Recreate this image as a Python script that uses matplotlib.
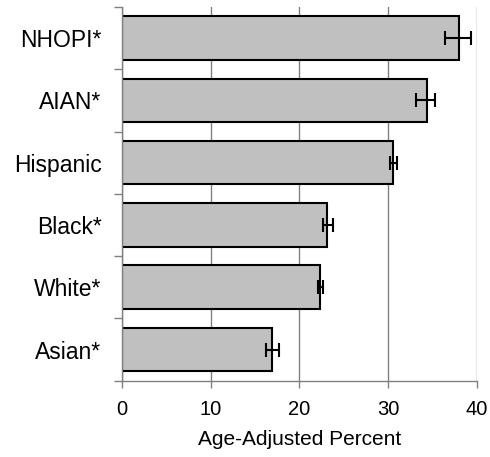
import matplotlib
matplotlib.use("Agg")
import matplotlib.pyplot as plt
import numpy as np

plt.rcParams['font.family'] = ['Liberation Sans', 'DejaVu Sans']

# Age-adjusted percent by race/ethnicity, bottom to top
groups = ["Asian*", "White*", "Black*", "Hispanic", "AIAN*", "NHOPI*"]
percent = [16.9, 22.35, 23.05, 30.5, 34.35, 38.0]
ci_low = [16.25, 22.1, 22.6, 30.25, 33.15, 36.4]
ci_high = [17.7, 22.6, 23.8, 31.0, 35.3, 39.4]
x_ticks = [0, 10, 20, 30, 40]
x_label = "Age-Adjusted Percent"

fig = plt.figure(figsize=(4.9, 4.57), dpi=100)
ax = fig.add_axes([0.2496, 0.167, 0.9728 - 0.2496, 0.9847 - 0.167])

y = np.arange(len(groups))
err = [np.array(percent) - np.array(ci_low), np.array(ci_high) - np.array(percent)]

ax.barh(y, percent, height=0.70, color="#c0c0c0", edgecolor="black",
        linewidth=1.5, zorder=2)
ax.errorbar(percent, y, xerr=err, fmt="none", ecolor="black",
            elinewidth=1.5, capsize=5, capthick=1.5, zorder=3)

ax.set_xlim(0, 40)
ax.set_ylim(-0.5, len(groups) - 0.5)
ax.set_xticks(x_ticks)
ax.set_xticklabels([str(t) for t in x_ticks])
ax.grid(axis="x", color="#808080", linewidth=1.0, zorder=0)
ax.set_axisbelow(True)

# category boundaries carry the y tick marks
ax.set_yticks(np.arange(-0.5, len(groups), 1.0))
ax.set_yticklabels([])
ax.set_yticks(y, minor=True)
ax.set_yticklabels(groups, minor=True)
ax.tick_params(axis="y", which="major", length=6, color="#808080", width=1.0)
ax.tick_params(axis="y", which="minor", length=0, pad=15, labelsize=16.5)
ax.tick_params(axis="x", length=5, color="#808080", width=1.0, labelsize=14.5, pad=9)

for side in ("top", "right"):
    ax.spines[side].set_visible(False)
for side in ("left", "bottom"):
    ax.spines[side].set_color("#808080")
    ax.spines[side].set_linewidth(1.0)

ax.set_xlabel(x_label, fontsize=15, labelpad=8)

fig.savefig("out.png", dpi=100)
